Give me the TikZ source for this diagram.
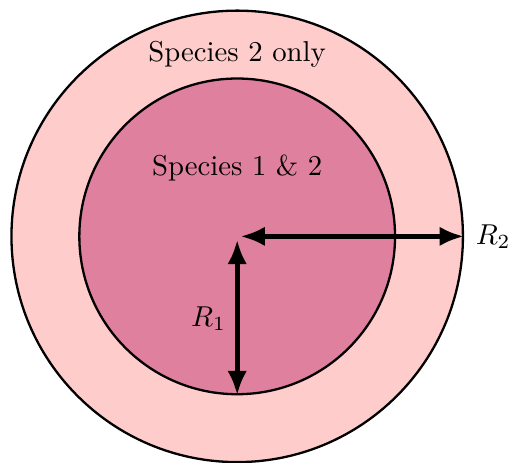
\documentclass[tikz,border=0pt]{standalone}
\usepackage{xcolor}
\usepackage{tikz}
\usetikzlibrary{arrows.meta,positioning}
\tikzset{
    region/.style={
        draw,
        circle,
        thick,
        inner sep=0pt
    },
    radius arrow/.style={
        {Latex[length=3mm,width=2.4mm]}-{Latex[length=3mm,width=2.4mm]},
        line width=1.7pt
    }
}

\begin{document}
\begin{tikzpicture}
        \useasboundingbox (-2.9,-2.77) rectangle (3.36,2.89);

        \node[region, fill=red!20, minimum size=5.52cm] (outer) at (0,0) {};
        \node[region, fill=purple!50, minimum size=3.86cm] (inner) at (0,0) {};
        \coordinate (c) at (0,0);

        \node (only2) at (0,2.23) {Species 2 only};
        \node (both) at (0,0.84) {Species 1 \& 2};

        \draw[radius arrow] ([xshift=0.04cm]c) -- (outer.east);
        \node[right=0.02cm of outer.east] (r2) {$R_2$};

        \draw[radius arrow] ([yshift=-0.04cm]c) -- (inner.south);
        \node (r1) at (-0.35,-1.01) {$R_1$};
    \end{tikzpicture}
\end{document}
